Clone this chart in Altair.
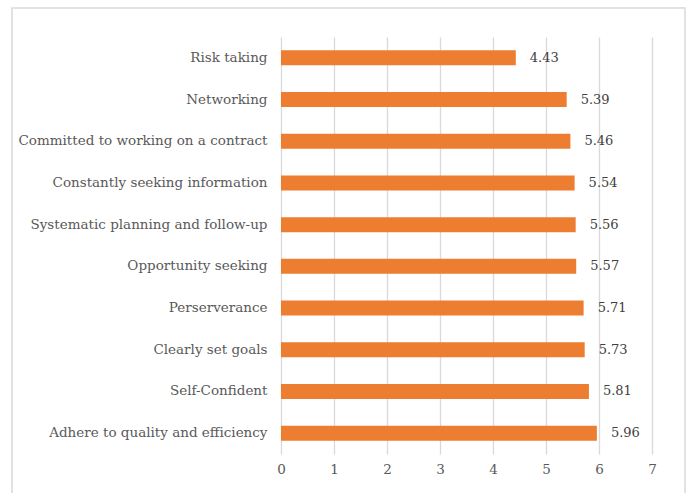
import altair as alt
import pandas as pd

categories = [
    "Risk taking",
    "Networking",
    "Committed to working on a contract ",
    "Constantly seeking information",
    "Systematic planning and follow-up",
    "Opportunity seeking",
    "Perserverance",
    "Clearly set goals ",
    "Self-Confident",
    "Adhere to quality and efficiency",
]
values = [4.43, 5.39, 5.46, 5.54, 5.56, 5.57, 5.71, 5.73, 5.81, 5.96]
x_ticks = [0, 1, 2, 3, 4, 5, 6, 7]

df = pd.DataFrame({"cat": categories, "val": values})
df["lbl"] = [f"{v:.2f}" for v in values]

FONT = "DejaVu Serif"
TEXT_COLOR = "#595959"

y_enc = alt.Y(
    "cat:N",
    sort=categories,
    title=None,
    scale=alt.Scale(paddingInner=0.64, paddingOuter=0.32),
    axis=alt.Axis(
        domain=False,
        ticks=False,
        grid=False,
        labelPadding=14,
        labelFont=FONT,
        labelFontSize=13.5,
        labelColor=TEXT_COLOR,
        labelLimit=400,
    ),
)

x_enc = alt.X(
    "val:Q",
    title=None,
    scale=alt.Scale(domain=[0, 7], nice=False),
    axis=alt.Axis(
        values=x_ticks,
        format="d",
        domain=False,
        ticks=False,
        grid=True,
        gridColor="#d9d9d9",
        gridWidth=1.3,
        labelPadding=8,
        labelFont=FONT,
        labelFontSize=13.5,
        labelColor=TEXT_COLOR,
        labelFlush=False,
    ),
)

bars = alt.Chart(df).mark_bar(color="#ED7D31").encode(x=x_enc, y=y_enc)

labels = alt.Chart(df).mark_text(
    align="left", baseline="middle", dx=14, font=FONT, fontSize=13, color="#404040"
).encode(x="val:Q", y=alt.Y("cat:N", sort=categories), text="lbl:N")

border = alt.Chart(pd.DataFrame({"a": [0]})).mark_rect(
    fill=None, stroke="#d9d9d9", strokeWidth=1.5, clip=False
).encode(
    x=alt.value(-269), x2=alt.value(404), y=alt.value(-29), y2=alt.value(470)
)

chart = (
    alt.layer(border, bars, labels)
    .properties(
        width=371,
        height=417,
        autosize=alt.AutoSizeParams(type="none"),
        padding={"left": 281, "top": 37, "right": 37, "bottom": 39},
        background="white",
    )
    .configure_view(stroke=None)
)

chart.save("out.html", embed_options={"renderer": "svg", "actions": False})
